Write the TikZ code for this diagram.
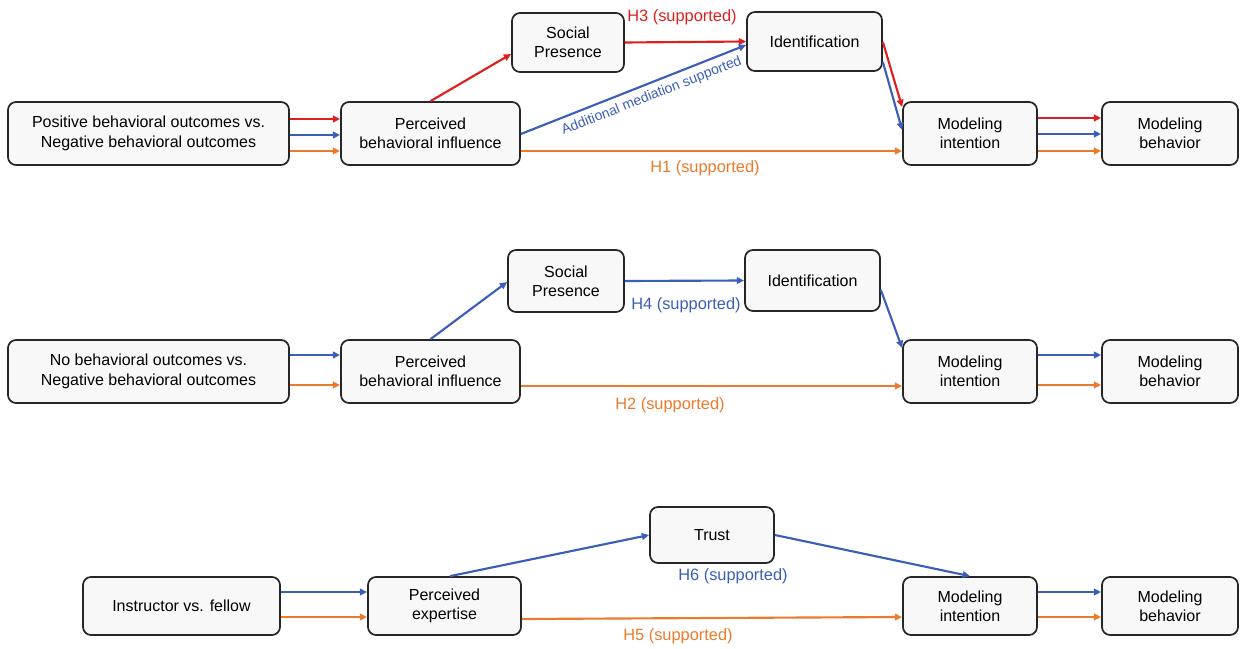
\documentclass[tikz,border=0pt]{standalone}
\usepackage{fontspec}
\setmainfont{Liberation Sans}
\usetikzlibrary{arrows.meta}
\definecolor{cred}{HTML}{DD1F1F}
\definecolor{cblue}{HTML}{3B5EB8}
\definecolor{corange}{HTML}{EC7A2C}
\definecolor{boxfill}{HTML}{F8F8F8}
\tikzset{
  box/.style={draw=black!85, line width=1.3pt, rounded corners=6pt, fill=boxfill,
    align=center, inner sep=0pt, font=\fontsize{12}{14.5}\selectfont},
  conn/.style={line width=1.6pt, -{Triangle[length=5.5pt,width=5pt]}},
  lab/.style={font=\fontsize{12.3}{14}\selectfont, inner sep=0pt},
}
\begin{document}
\begin{tikzpicture}[x=0.75pt,y=-0.75pt]
\useasboundingbox (0,0) rectangle (1245,649);
% ---------- Row 1 ----------
\node[box, minimum width=210.75pt, minimum height=47.25pt] (A1) at (148.5,133.5) {Positive behavioral outcomes vs.\\Negative behavioral outcomes};
\node[box, minimum width=134.25pt, minimum height=47.25pt] (B1) at (430.5,133.5) {Perceived\\behavioral influence};
\node[box, minimum width=84pt, minimum height=44.25pt] (S1) at (568,42.5) {Social\\Presence};
\node[box, minimum width=101.25pt, minimum height=44.25pt] (I1) at (814.5,41.5) {Identification};
\node[box, minimum width=100.5pt, minimum height=47.25pt] (M1) at (970,133.5) {Modeling\\intention};
\node[box, minimum width=102pt, minimum height=47.25pt] (E1) at (1170,133.5) {Modeling\\behavior};

\draw[conn, cred] (A1.east |- 0,119) -- (B1.west |- 0,119);
\draw[conn, cblue] (A1.east |- 0,135) -- (B1.west |- 0,135);
\draw[conn, corange] (A1.east |- 0,151) -- (B1.west |- 0,151);
\draw[conn, cred] (B1.north) -- (S1.west |- 0,54);
\draw[conn, cred] (S1.east) -- (I1.west);
\draw[conn, cblue] (B1.east |- 0,134) -- node[sloped, below=4pt, pos=0.56, inner sep=0pt, font=\fontsize{10.5}{12}\selectfont, text=cblue] (AM) {Additional mediation supported} (I1.west |- 0,45);
\draw[conn, cred] (I1.east |- 0,42) -- (M1.north west |- 905,107);
\draw[conn, cblue] (I1.east |- 0,62) -- (M1.west |- 0,130);
\draw[conn, corange] (B1.east |- 0,151) -- (M1.west |- 0,151);
\draw[conn, cred] (M1.east |- 0,118) -- (E1.west |- 0,118);
\draw[conn, cblue] (M1.east |- 0,134) -- (E1.west |- 0,134);
\draw[conn, corange] (M1.east |- 0,151) -- (E1.west |- 0,151);
\node[lab, text=cred] (L3) at (682,17) {H3 (supported)};
\node[lab, text=corange] (L1) at (705,168) {H1 (supported)};

% ---------- Row 2 ----------
\node[box, minimum width=210.75pt, minimum height=47.25pt] (A2) at (148.5,371.5) {No behavioral outcomes vs.\\Negative behavioral outcomes};
\node[box, minimum width=134.25pt, minimum height=47.25pt] (B2) at (430.5,371.5) {Perceived\\behavioral influence};
\node[box, minimum width=87pt, minimum height=46.5pt] (S2) at (566,281) {Social\\Presence};
\node[box, minimum width=101.25pt, minimum height=45.75pt] (I2) at (812.5,280.5) {Identification};
\node[box, minimum width=100.5pt, minimum height=47.25pt] (M2) at (970,371.5) {Modeling\\intention};
\node[box, minimum width=102pt, minimum height=47.25pt] (E2) at (1170,371.5) {Modeling\\behavior};

\draw[conn, cblue] (A2.east |- 0,355) -- (B2.west |- 0,355);
\draw[conn, corange] (A2.east |- 0,385) -- (B2.west |- 0,385);
\draw[conn, cblue] (B2.north) -- (S2.west |- 0,282);
\draw[conn, cblue] (S2.east) -- (I2.west);
\draw[conn, cblue] (I2.east |- 0,290) -- (M2.west |- 0,348);
\draw[conn, corange] (B2.east |- 0,386) -- (M2.west |- 0,386);
\draw[conn, cblue] (M2.east |- 0,355) -- (E2.west |- 0,355);
\draw[conn, corange] (M2.east |- 0,385) -- (E2.west |- 0,385);
\node[lab, text=cblue] (L4) at (686,305) {H4 (supported)};
\node[lab, text=corange] (L2) at (670,405) {H2 (supported)};

% ---------- Row 3 ----------
\node[box, minimum width=147.75pt, minimum height=43.5pt] (A3) at (181.5,606) {Instructor vs. fellow};
\node[box, minimum width=114.75pt, minimum height=43.5pt] (B3) at (444.5,606) {Perceived\\expertise};
\node[box, minimum width=93pt, minimum height=42pt] (T3) at (712,535) {Trust};
\node[box, minimum width=100.5pt, minimum height=43.5pt] (M3) at (970,606) {Modeling\\intention};
\node[box, minimum width=102pt, minimum height=43.5pt] (E3) at (1170,606) {Modeling\\behavior};

\draw[conn, cblue] (A3.east |- 0,592) -- (B3.west |- 0,592);
\draw[conn, corange] (A3.east |- 0,617) -- (B3.west |- 0,617);
\draw[conn, cblue] (B3.north -| 450,0) -- (T3.west);
\draw[conn, cblue] (T3.east) -- (M3.north);
\draw[conn, corange] (B3.east |- 0,619) -- (M3.west |- 0,617);
\draw[conn, cblue] (M3.east |- 0,592) -- (E3.west |- 0,592);
\draw[conn, corange] (M3.east |- 0,617) -- (E3.west |- 0,617);
\node[lab, text=cblue] (L6) at (733,576) {H6 (supported)};
\node[lab, text=corange] (L5) at (678,636) {H5 (supported)};
\end{tikzpicture}
\end{document}
